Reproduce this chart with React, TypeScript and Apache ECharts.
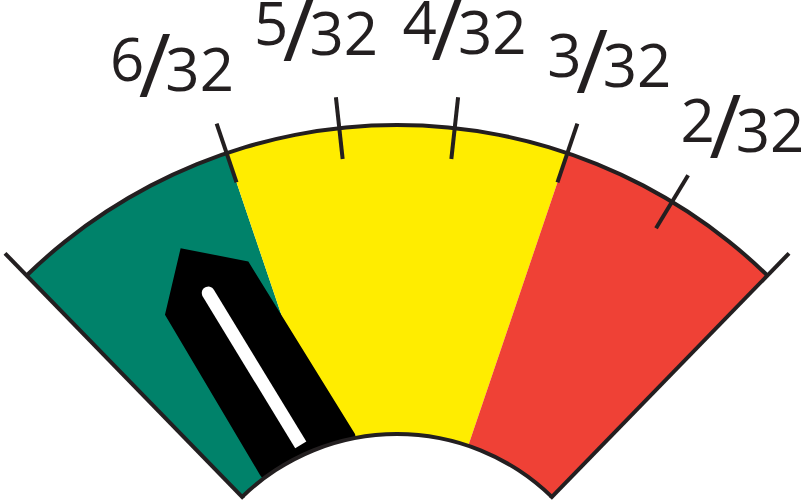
import React, { useEffect, useRef } from "react";
import * as echarts from "echarts";

// ---------------- data ----------------
const DENOMINATOR = 32;
const SCALE_MIN = 1; // right end of the dial (1/32)
const SCALE_MAX = 8; // left end of the dial (8/32)
const TICK_NUMERATORS = [2, 3, 4, 5, 6];
const ZONE_LIMITS = [3, 6]; // red | yellow | green
const ZONE_COLORS = ["#EF4136", "#FFED00", "#00826A"];
const NEEDLE_VALUE = 6.5;

// ---------------- geometry / style ----------------
const CX = 397;
const CY = 656;
const R_OUT = 531;
const R_IN = 222;
const R_TICK_OUT = 562;
const R_TICK_IN = 500;
const STEP_DEG = 12.48;
const DIAL_OVERHANG = 0.55;
const LABEL_R = 634;
const LABEL_STEP_DEG = 13.45;
const LABEL_MID_DEG = 90.61;
const INK = "#231F20";
const LINE_W = 4;
const FONT = "Open Sans";

const MID = (SCALE_MIN + SCALE_MAX) / 2;
const angleOf = (v: number) => 90 + (v - MID) * STEP_DEG;
const labelAngleOf = (v: number) => LABEL_MID_DEG + (v - MID) * LABEL_STEP_DEG;

// needle icon, drawn in the pointer's own frame (x to the right, y outward negative)
const NEEDLE_TOP: [number, number][] = [
  [55.6, -219.0],
  [31.6, -420.2],
  [-24.1, -460.9],
  [-66.4, -407.1],
  [-47.8, -221.9],
];
const STRIPE_OUTER: [number, number] = [-18.0, -408.5];
const STRIPE_INNER: [number, number] = [1.8, -231.9];
const STRIPE_W = 13;

function iconFrom(points: [number, number][]) {
  let minX = Infinity, maxX = -Infinity, minY = Infinity, maxY = -Infinity;
  points.forEach(([x, y]) => {
    minX = Math.min(minX, x); maxX = Math.max(maxX, x);
    minY = Math.min(minY, y); maxY = Math.max(maxY, y);
  });
  const d =
    "M" + points.map(([x, y]) => x.toFixed(2) + " " + y.toFixed(2)).join(" L") + " Z";
  return {
    icon: "path://" + d,
    width: maxX - minX,
    length: maxY - minY,
    offsetCenter: [(minX + maxX) / 2, maxY],
  };
}

function needleIcon() {
  const pts: [number, number][] = [];
  const first = NEEDLE_TOP[0];
  const last = NEEDLE_TOP[NEEDLE_TOP.length - 1];
  NEEDLE_TOP.forEach((p) => pts.push(p));
  // bottom edge follows the inner arc, from the last point back to the first
  const t0 = Math.atan2(last[0], -last[1]);
  const t1 = Math.atan2(first[0], -first[1]);
  const n = 16;
  for (let i = 0; i <= n; i++) {
    const t = t0 + ((t1 - t0) * i) / n;
    pts.push([R_IN * Math.sin(t), -R_IN * Math.cos(t)]);
  }
  return iconFrom(pts);
}

function stripeIcon() {
  const [ax, ay] = STRIPE_OUTER;
  const [bx, by] = STRIPE_INNER;
  const len = Math.hypot(ax - bx, ay - by);
  const ux = (ax - bx) / len, uy = (ay - by) / len;
  const px = -uy, py = ux;
  const h = STRIPE_W / 2;
  const pts: [number, number][] = [];
  pts.push([bx + px * h, by + py * h]);
  const n = 16;
  for (let i = 0; i <= n; i++) {
    const t = (Math.PI * i) / n;
    pts.push([
      ax + h * (px * Math.cos(t) + ux * Math.sin(t)),
      ay + h * (py * Math.cos(t) + uy * Math.sin(t)),
    ]);
  }
  pts.push([bx - px * h, by - py * h]);
  return iconFrom(pts);
}

function gauge(o: any) {
  return {
    type: "gauge",
    center: [CX, CY],
    clockwise: false,
    silent: true,
    min: SCALE_MIN,
    max: SCALE_MAX,
    startAngle: angleOf(SCALE_MIN),
    endAngle: angleOf(SCALE_MAX),
    axisLine: { show: false, lineStyle: { width: 0 } },
    splitLine: { show: false, length: 0, distance: 0 },
    axisTick: { show: false, length: 0, distance: 0 },
    axisLabel: { show: false, distance: 0 },
    pointer: { show: false },
    anchor: { show: false },
    progress: { show: false },
    title: { show: false },
    detail: { show: false },
    emphasis: { disabled: true },
    data: [],
    ...o,
  };
}

export default function App() {
  const ref = useRef<HTMLDivElement>(null);

  useEffect(() => {
    if (!ref.current) return;
    const chart = echarts.init(ref.current, undefined, { renderer: "svg" });

    const dialStart = angleOf(SCALE_MIN) - DIAL_OVERHANG;
    const dialEnd = angleOf(SCALE_MAX) + DIAL_OVERHANG;
    const span = dialEnd - dialStart;
    const stops: [number, string][] = ZONE_LIMITS.map(
      (v, i) => [(angleOf(v) - dialStart) / span, ZONE_COLORS[i]] as [number, string]
    );
    stops.push([1, ZONE_COLORS[ZONE_COLORS.length - 1]]);

    const tickMin = TICK_NUMERATORS[0];
    const tickMax = TICK_NUMERATORS[TICK_NUMERATORS.length - 1];
    const needle = needleIcon();
    const stripe = stripeIcon();

    const option: any = {
      animation: false,
      backgroundColor: "#ffffff",
      series: [
        // coloured zones
        gauge({
          z: 1,
          radius: R_OUT,
          startAngle: dialStart,
          endAngle: dialEnd,
          axisLine: { show: true, lineStyle: { width: R_OUT - R_IN, color: stops } },
        }),
        // needle body
        gauge({
          z: 2,
          radius: R_OUT,
          pointer: {
            show: true,
            icon: needle.icon,
            width: needle.width,
            length: needle.length,
            offsetCenter: needle.offsetCenter,
            keepAspect: false,
          },
          itemStyle: { color: "#000000" },
          data: [{ value: NEEDLE_VALUE }],
        }),
        // outer outline
        gauge({
          z: 3,
          radius: R_OUT + LINE_W / 2,
          startAngle: dialStart,
          endAngle: dialEnd,
          axisLine: { show: true, lineStyle: { width: LINE_W, color: [[1, INK]] } },
        }),
        // inner outline
        gauge({
          z: 3,
          radius: R_IN + LINE_W / 2,
          startAngle: dialStart,
          endAngle: dialEnd,
          axisLine: { show: true, lineStyle: { width: LINE_W, color: [[1, INK]] } },
        }),
        // end edges of the dial
        gauge({
          z: 3,
          radius: R_TICK_OUT,
          startAngle: dialStart,
          endAngle: dialEnd,
          splitNumber: 1,
          splitLine: {
            show: true,
            distance: 0,
            length: R_TICK_OUT - (R_IN - LINE_W / 2),
            lineStyle: { color: INK, width: LINE_W },
          },
        }),
        // labelled ticks
        gauge({
          z: 3,
          radius: R_TICK_OUT,
          min: tickMin,
          max: tickMax,
          startAngle: angleOf(tickMin),
          endAngle: angleOf(tickMax),
          splitNumber: TICK_NUMERATORS.length - 1,
          splitLine: {
            show: true,
            distance: 0,
            length: R_TICK_OUT - R_TICK_IN,
            lineStyle: { color: INK, width: LINE_W },
          },
        }),
        // needle stripe
        gauge({
          z: 4,
          radius: R_OUT,
          pointer: {
            show: true,
            icon: stripe.icon,
            width: stripe.width,
            length: stripe.length,
            offsetCenter: stripe.offsetCenter,
            keepAspect: false,
          },
          itemStyle: { color: "#ffffff" },
          data: [{ value: NEEDLE_VALUE }],
        }),
        // tick labels
        gauge({
          z: 5,
          radius: LABEL_R,
          min: tickMin,
          max: tickMax,
          startAngle: labelAngleOf(tickMin),
          endAngle: labelAngleOf(tickMax),
          splitNumber: TICK_NUMERATORS.length - 1,
          axisLabel: {
            show: true,
            distance: 0,
            rotate: 0.0001,
            color: INK,
            fontFamily: FONT,
            formatter: (v: number) => `{n|${Math.round(v)}}{s|/}{d|${DENOMINATOR}}`,
            rich: {
              n: {
                fontFamily: FONT,
                fontSize: 60,
                lineHeight: 48,
                color: INK,
                verticalAlign: "middle",
                padding: [0, 0, 10, 0],
              },
              s: {
                fontFamily: FONT,
                fontSize: 88,
                lineHeight: 48,
                width: 21,
                align: "center",
                color: INK,
                verticalAlign: "middle",
              },
              d: {
                fontFamily: FONT,
                fontSize: 60,
                lineHeight: 48,
                color: INK,
                verticalAlign: "middle",
                padding: [10, 0, 0, 0],
              },
            },
          },
        }),
      ],
    };

    chart.setOption(option);
    return () => chart.dispose();
  }, []);

  return (
    <div
      ref={ref}
      style={{ position: "fixed", left: 0, top: 0, width: 801, height: 501, background: "#fff" }}
    />
  );
}
